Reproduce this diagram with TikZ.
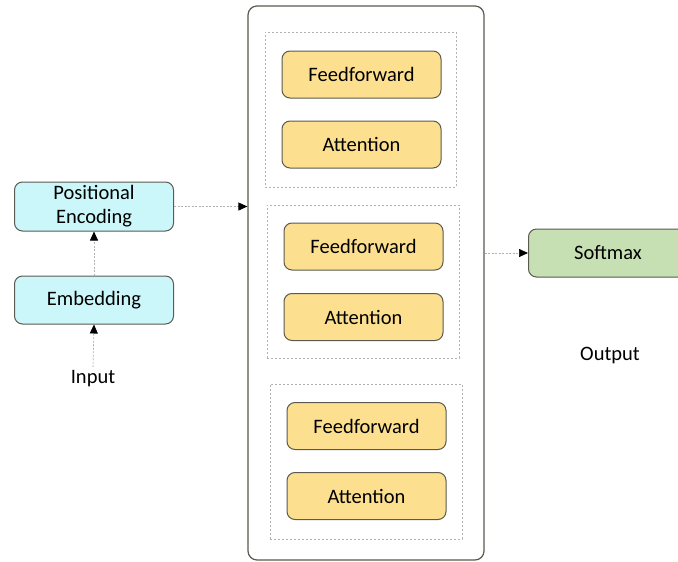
\documentclass[tikz,border=0pt]{standalone}
\usepackage{fontspec}
\setmainfont{Carlito}
\usetikzlibrary{arrows.meta}
\definecolor{cyanfill}{HTML}{CCF7FA}
\definecolor{yelfill}{HTML}{FDE08F}
\definecolor{grnfill}{HTML}{C6E0B4}
\definecolor{edge}{HTML}{5A5A50}
\tikzset{
  blk/.style={draw=edge, line width=1pt, rounded corners=8pt, minimum width=159pt, minimum height=47pt, inner sep=0pt, font=\fontsize{20.5}{24}\selectfont, align=center},
  cyanblk/.style={blk, fill=cyanfill, minimum height=49pt},
  yelblk/.style={blk, fill=yelfill},
  grnblk/.style={blk, fill=grnfill, minimum height=48pt},
  grp/.style={draw=gray!60, line width=0.8pt, dash pattern=on 2pt off 2pt},
  conn/.style={draw=gray!60, line width=0.7pt, dash pattern=on 2pt off 1.5pt, -{Triangle[length=9pt,width=8pt,fill=black,color=black]}},
  lbl/.style={font=\fontsize{20.5}{24}\selectfont}
}
\begin{document}
\begin{tikzpicture}[x=1pt,y=-1pt]
\useasboundingbox (0,0) rectangle (678,562);
\fill[white] (0,0) rectangle (678,562);
% big container
\node[draw=edge, line width=1.2pt, rounded corners=9pt, minimum width=236pt, minimum height=554pt, inner sep=0pt] (stack) at (366,283) {};
% groups
\node[grp, minimum width=191pt, minimum height=155pt, inner sep=0pt] (g1) at (360.5,109.5) {};
\node[grp, minimum width=192pt, minimum height=153pt, inner sep=0pt] (g2) at (363,281.5) {};
\node[grp, minimum width=192pt, minimum height=155pt, inner sep=0pt] (g3) at (366,461.5) {};
% blocks
\node[yelblk] (ff1) at (361.5,74.5) {Feedforward};
\node[yelblk] (at1) at (361.5,144.5) {Attention};
\node[yelblk] (ff2) at (363.5,246.5) {Feedforward};
\node[yelblk] (at2) at (363.5,317) {Attention};
\node[yelblk] (ff3) at (366.5,426) {Feedforward};
\node[yelblk] (at3) at (366.5,496) {Attention};
% left
\node[cyanblk] (pe) at (94,206.5) {Positional\\Encoding};
\node[cyanblk, minimum height=48pt] (emb) at (94,300) {Embedding};
\node[lbl] (inp) at (93,379) {Input};
% right
\node[grnblk] (sm) at (608,253) {Softmax};
\node[lbl] (out) at (610,355) {Output};
% connectors
\draw[conn] (inp.north) -- (emb.south);
\draw[conn] (emb.north) -- (pe.south);
\draw[conn] (pe.east) -- (pe.east -| stack.west);
\draw[conn] (stack.east |- sm.west) -- (sm.west);
\end{tikzpicture}
\end{document}
